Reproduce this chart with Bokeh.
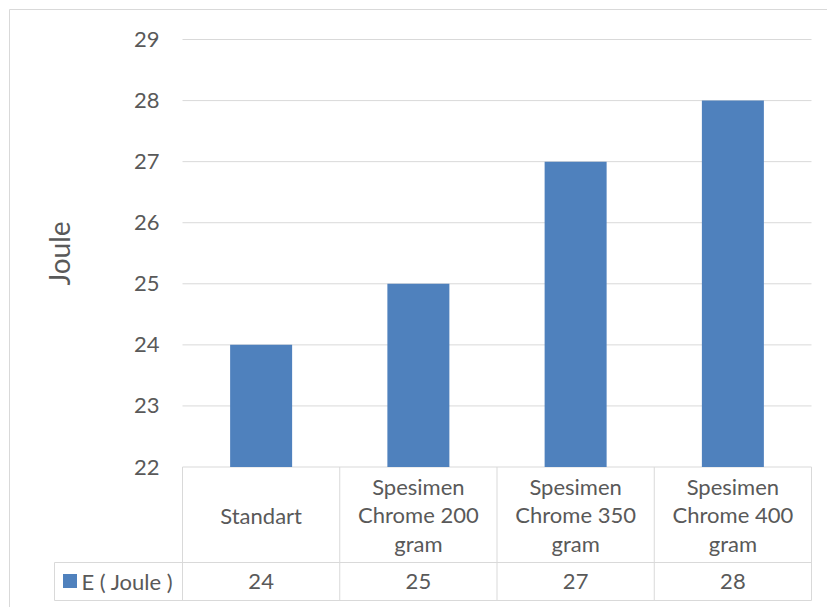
import math
from bokeh.plotting import figure
from bokeh.models import Range1d
from bokeh.core.properties import value
from bokeh.embed import file_html
from bokeh.resources import INLINE

# ---- data ----
categories = ["Standart", "Spesimen\nChrome 200\ngram", "Spesimen\nChrome 350\ngram", "Spesimen\nChrome 400\ngram"]
energy = [24, 25, 27, 28]
series_name = "E ( Joule )"
y_ticks = [22, 23, 24, 25, 26, 27, 28, 29]
y_title = "Joule"

# ---- style ----
BAR = "#4F81BD"
GRID = "#D9D9D9"
TXT = "#595959"
FONT = "Lato"
FS = "22px"

# ---- layout (pixels of the reference picture) ----
W, H = 827, 607
X0, CW = 182.0, 157.25          # left edge of plot area, width of one category column
Y0, PPU = 466.5, 61.07          # pixel row of the axis minimum, pixels per unit


def dx(px):
    return (px - X0) / CW


def dy(py):
    return y_ticks[0] - (py - Y0) / PPU


n = len(categories)
centers = [i + 0.5 for i in range(n)]

p = figure(width=W, height=H,
           x_range=Range1d(dx(0), dx(W)), y_range=Range1d(dy(H), dy(0)),
           output_backend="svg", toolbar_location=None,
           x_axis_location=None, y_axis_location=None, min_border=0)
p.xgrid.visible = False
p.ygrid.visible = False
p.outline_line_color = None
p.background_fill_color = "white"
p.border_fill_color = "white"

# outer chart border (left and top visible in window)
p.segment(x0=[dx(9), dx(9)], y0=[dy(9), dy(9)], x1=[dx(W), dx(9)], y1=[dy(9), dy(H)],
          line_color=GRID, line_width=1)

# gridlines
p.segment(x0=[0] * len(y_ticks), x1=[n] * len(y_ticks), y0=y_ticks, y1=y_ticks,
          line_color=GRID, line_width=1)

# bars
p.vbar(x=centers, width=62 / CW, bottom=y_ticks[0], top=energy,
       fill_color=BAR, line_color=None)

# y tick labels
p.text(x=[dx(159)] * len(y_ticks), y=y_ticks, text=[str(t) for t in y_ticks],
       text_align="right", text_baseline="middle", text_color=TXT,
       text_font=value(FONT), text_font_size=FS)

# y axis title
p.text(x=[dx(58)], y=[dy(253)], text=[y_title], angle=math.pi / 2,
       text_align="center", text_baseline="middle", text_color=TXT,
       text_font=value(FONT), text_font_size="28px")

# data table grid
head_bot = dy(562)
tab_bot = dy(600)
left_col = dx(54)
p.segment(x0=[left_col, left_col], x1=[n, n], y0=[head_bot, tab_bot], y1=[head_bot, tab_bot],
          line_color=GRID, line_width=1)
p.segment(x0=[left_col], x1=[left_col], y0=[head_bot], y1=[tab_bot], line_color=GRID, line_width=1)
p.segment(x0=list(range(n + 1)), x1=list(range(n + 1)), y0=[y_ticks[0]] * (n + 1), y1=[tab_bot] * (n + 1),
          line_color=GRID, line_width=1)

# table header (categories)
p.text(x=centers, y=[dy(514.5)] * n, text=categories,
       text_align="center", text_baseline="middle", text_color=TXT,
       text_font=value(FONT), text_font_size=FS, text_line_height=1.05)

# table values
p.text(x=centers, y=[dy(581)] * n, text=[str(v) for v in energy],
       text_align="center", text_baseline="middle", text_color=TXT,
       text_font=value(FONT), text_font_size=FS)

# legend key and series name
p.scatter(x=[dx(69.5)], y=[dy(580.5)], marker="square", size=14, fill_color=BAR, line_color=None)
p.text(x=[dx(81)], y=[dy(581)], text=[series_name],
       text_align="left", text_baseline="middle", text_color=TXT,
       text_font=value(FONT), text_font_size=FS)

open("out.html", "w").write(file_html(p, INLINE))
